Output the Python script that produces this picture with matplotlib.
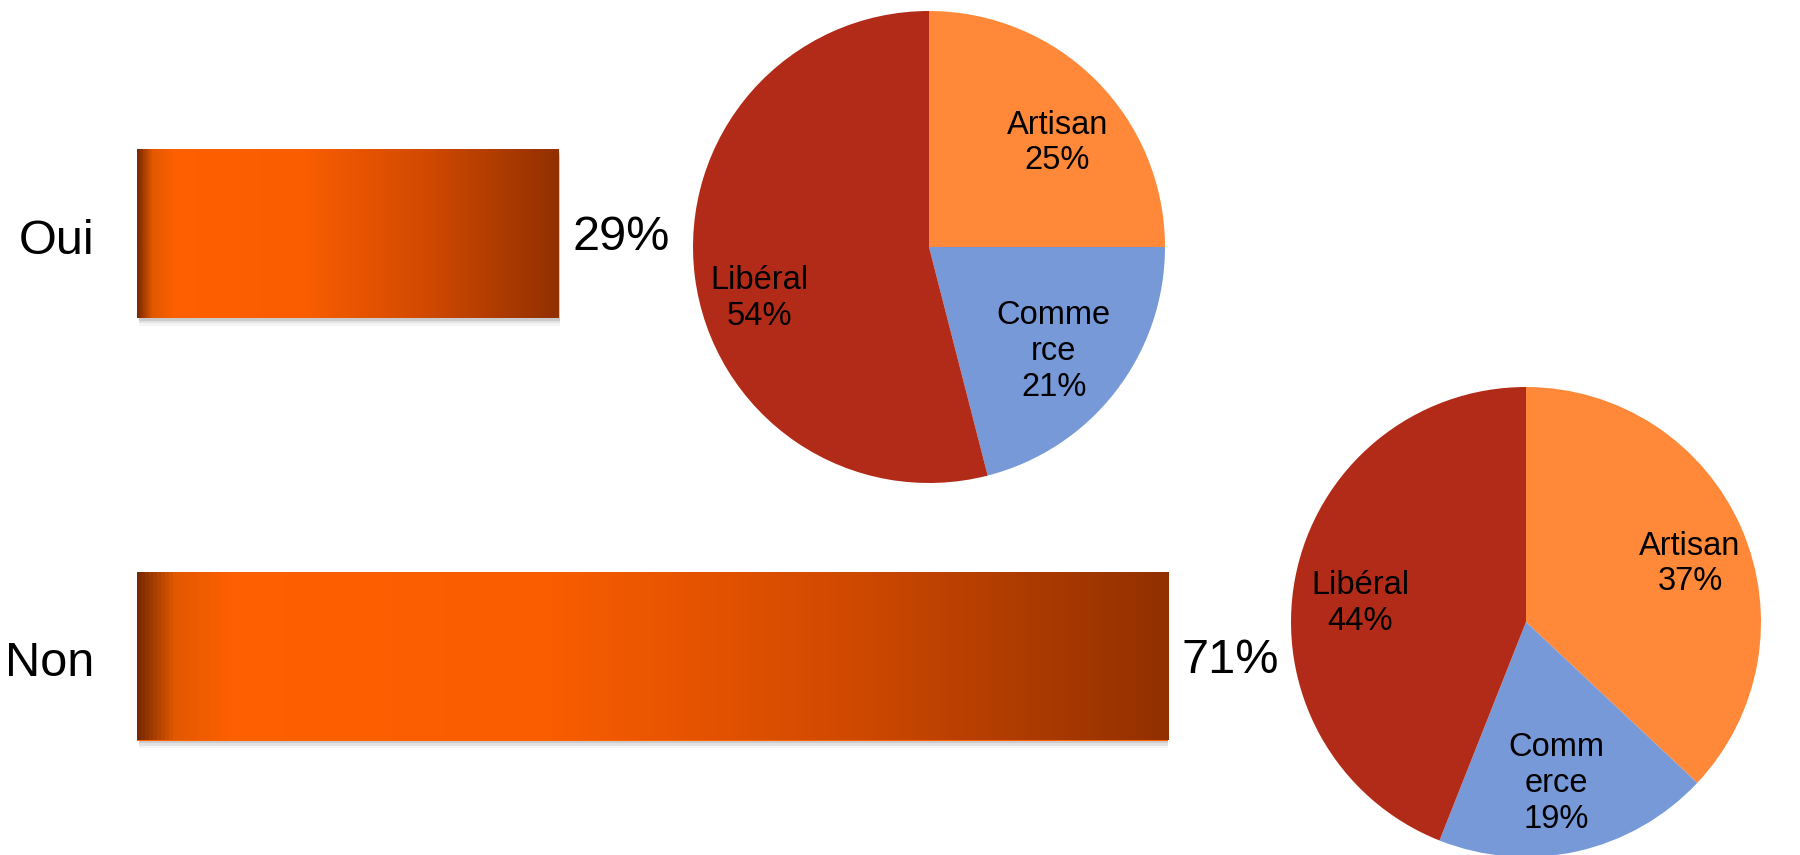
import numpy as np
import matplotlib
matplotlib.use('Agg')
import matplotlib.pyplot as plt
import matplotlib.transforms as mtransforms
from matplotlib.colors import LinearSegmentedColormap
from matplotlib.patches import Rectangle

plt.rcParams['font.family'] = ['Liberation Sans', 'DejaVu Sans']

# ---------------------------------------------------------------- données
reponses = ['Non', 'Oui']
parts_reponse = [71, 29]

libelles_oui = ['Artisan', 'Comme\nrce', 'Libéral']
parts_oui = [25, 21, 54]
libelles_non = ['Artisan', 'Comm\nerce', 'Libéral']
parts_non = [37, 19, 44]

COULEURS = ['#FF8939', '#7799D8', '#B22B18']
FS_GRAND = 35
FS_PIE = 23.5
W, H = 1800, 855

degrade = LinearSegmentedColormap.from_list('barre', [
    (0.00, '#7A2A00'), (0.035, '#E25800'), (0.09, '#FF6000'),
    (0.40, '#F95D00'), (0.68, '#D24A00'), (1.00, '#923000')])

fig = plt.figure(figsize=(W / 100, H / 100), dpi=100)

# ---------------------------------------------------------------- barres
x0, x1 = 137, 1168          # pixels: début de barre, fin de la plus longue
y_haut, y_bas = 22.25, 867.25
axb = fig.add_axes([x0 / W, (H - y_bas) / H, (x1 - x0) / W, (y_bas - y_haut) / H])
pos = np.arange(len(reponses))
barres = axb.barh(pos, parts_reponse, height=0.4, color='#FF6000', zorder=2)
grad = np.linspace(0, 1, 256).reshape(1, -1)
for b, v, y in zip(barres, parts_reponse, pos):
    # ombre douce sous la barre
    for k, a in enumerate([0.10, 0.07, 0.04]):
        axb.add_patch(Rectangle((0.15, y - 0.2 - 0.006 * (k + 1)), v, 0.4,
                                color='k', alpha=a, lw=0, zorder=1))
    im = axb.imshow(grad, extent=[0, v, y - 0.2, y + 0.2], cmap=degrade,
                    aspect='auto', zorder=3)
    im.set_clip_path(b)
    axb.annotate(f'{v}%', xy=(v, y), xytext=(10, -3), textcoords='offset points',
                 va='center', ha='left', fontsize=FS_GRAND)
axb.set_xlim(0, max(parts_reponse))
axb.set_ylim(-0.5, 1.5)
axb.set_yticks(pos, reponses, fontsize=FS_GRAND)
axb.tick_params(axis='y', length=0, pad=31)
decal = mtransforms.ScaledTranslation(0, -2 / 72, fig.dpi_scale_trans)
for lbl in axb.get_yticklabels():
    lbl.set_transform(lbl.get_transform() + decal)
axb.set_xticks([])
for s in axb.spines.values():
    s.set_visible(False)
axb.patch.set_alpha(0)

# ---------------------------------------------------------------- camemberts
def camembert(cx, cy, r, parts, libelles, place):
    ax = fig.add_axes([(cx - r) / W, (H - cy - r) / H, 2 * r / W, 2 * r / H])
    wedges, _ = ax.pie(parts, colors=COULEURS, startangle=90, counterclock=False,
                       radius=1, wedgeprops=dict(linewidth=0))
    # étiquettes placées comme dans l'original (angle, distance au centre)
    for (th, rr), lab, v in zip(place, libelles, parts):
        t = np.deg2rad(th)
        ax.text(rr * np.cos(t), rr * np.sin(t), f'{lab}\n{v}%', ha='center',
                va='center', fontsize=FS_PIE, linespacing=1.2)
    ax.set_xlim(-1, 1)
    ax.set_ylim(-1, 1)
    ax.axis('off')
    return ax

camembert(929, 247, 236, parts_oui, libelles_oui,
          [(39, 0.70), (-40, 0.69), (197, 0.75)])
camembert(1526, 622, 235, parts_non, libelles_non,
          [(19.5, 0.74), (-79.5, 0.70), (173.7, 0.71)])

fig.savefig('out.png', dpi=100)
